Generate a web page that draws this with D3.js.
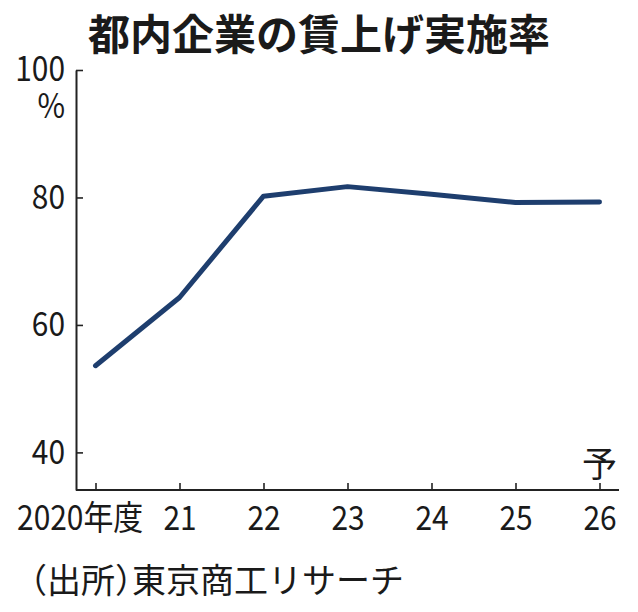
<!DOCTYPE html>
<html>
<head>
<meta charset="utf-8">
<script src="https://cdn.jsdelivr.net/npm/d3@7"></script>
<style>
  body { margin: 0; background: #fff; }
  svg { display: block; font-family: "Noto Sans CJK JP", "Noto Sans", sans-serif; }
</style>
</head>
<body>
<script>
// data
var years = [2020, 2021, 2022, 2023, 2024, 2025, 2026];
var yearLabels = ["2020年度", "21", "22", "23", "24", "25", "26"];
var rates = [53.6, 64.3, 80.2, 81.7, 80.5, 79.2, 79.3];
var yTicks = [40, 60, 80, 100];

var width = 638, height = 612;
var margin = {top: 70, right: 19, bottom: 122, left: 76};
var squeeze = 0.88; // narrow tick lettering

var svg = d3.select("body").append("svg")
    .attr("width", width)
    .attr("height", height);

// title
svg.append("text")
    .attr("x", 319)
    .attr("y", 50)
    .attr("text-anchor", "middle")
    .attr("font-size", "42px")
    .attr("font-weight", "bold")
    .attr("fill", "#1a1a1a")
    .text("都内企業の賃上げ実施率");

var x = d3.scaleLinear()
    .domain([2020, 2026])
    .range([margin.left + 19.5, width - margin.right - 19.5]);

var y = d3.scaleLinear()
    .domain([34.1, 100])
    .range([height - margin.bottom, margin.top]);

// y axis, ticks pointing inward
var yAxis = svg.append("g")
    .attr("transform", "translate(" + margin.left + ",0)")
    .call(d3.axisLeft(y).tickValues(yTicks).tickSize(-7).tickSizeOuter(0).tickPadding(12.5));
yAxis.select(".domain").attr("stroke", "#222").attr("stroke-width", 2);
yAxis.selectAll(".tick line").attr("stroke", "#222").attr("stroke-width", 1.6);
yAxis.selectAll(".tick text")
    .attr("font-size", "34px")
    .attr("font-family", "Noto Sans CJK JP")
    .attr("fill", "#1a1a1a")
    .attr("transform", "scale(" + squeeze + ",1)");

// unit sits under the top label, same text element
yAxis.selectAll(".tick text")
    .filter(function(d) { return d === 100; })
    .append("tspan")
    .attr("x", -12.5)
    .attr("dy", 37)
    .text("%");

// x axis, also inward ticks; line runs the full frame width
var xAxis = svg.append("g")
    .attr("transform", "translate(0," + (height - margin.bottom) + ")")
    .call(d3.axisBottom(x).tickValues(years).tickSize(-7).tickSizeOuter(0).tickPadding(16)
        .tickFormat(function(d, i) { return yearLabels[i]; }));
xAxis.select(".domain").remove();
xAxis.append("line")
    .attr("x1", margin.left)
    .attr("x2", width - margin.right)
    .attr("stroke", "#222")
    .attr("stroke-width", 2);
xAxis.selectAll(".tick line").attr("stroke", "#222").attr("stroke-width", 1.6);
xAxis.selectAll(".tick text")
    .attr("font-size", "34px")
    .attr("font-family", "Noto Sans CJK JP")
    .attr("fill", "#1a1a1a")
    .attr("transform", "scale(" + squeeze + ",1)")
    .attr("dx", function(d, i) { return i === 0 ? -18 : 0; });

// forecast mark over the last year
svg.append("text")
    .attr("x", x(2026))
    .attr("y", y(40) + 25)
    .attr("text-anchor", "middle")
    .attr("font-size", "35px")
    .attr("fill", "#1a1a1a")
    .text("予");

var line = d3.line()
    .x(function(d, i) { return x(years[i]); })
    .y(function(d) { return y(d); });

svg.append("path")
    .datum(rates)
    .attr("d", line)
    .attr("fill", "none")
    .attr("stroke", "#1e3e6e")
    .attr("stroke-width", 5)
    .attr("stroke-linejoin", "round")
    .attr("stroke-linecap", "round");

// source, half-width brackets
svg.append("text")
    .attr("x", 30)
    .attr("y", 593)
    .attr("font-size", "34px")
    .attr("fill", "#1a1a1a")
    .style("font-feature-settings", "'halt'")
    .text("（出所）東京商工リサーチ");
</script>
</body>
</html>
